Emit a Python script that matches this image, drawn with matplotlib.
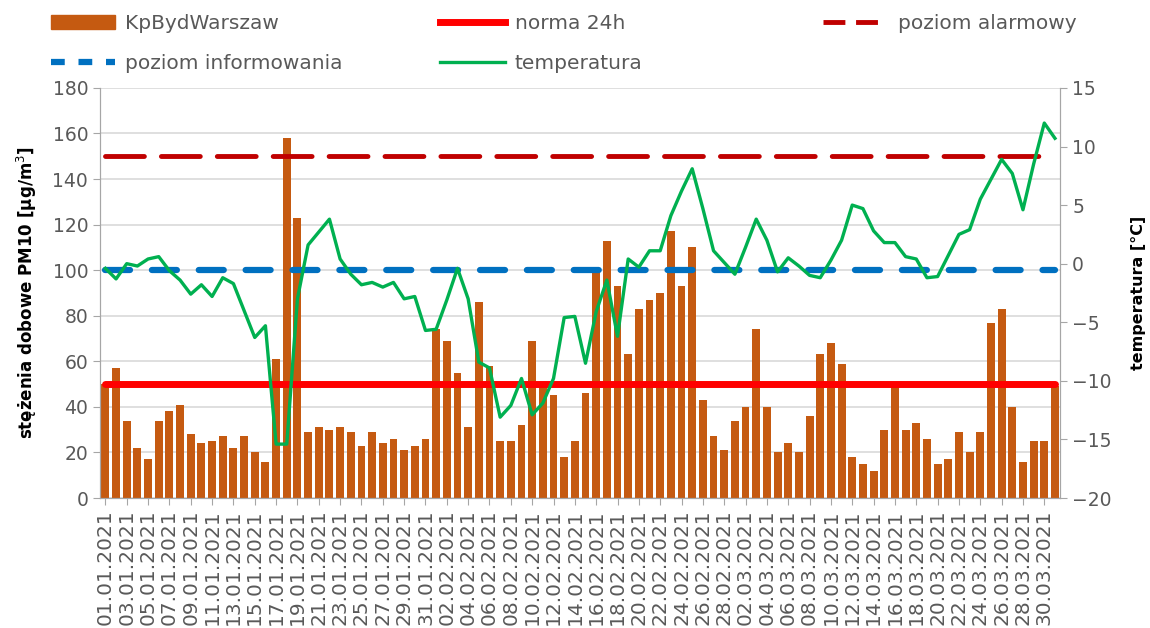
import numpy as np
import pandas as pd
import matplotlib

matplotlib.use("Agg")
import matplotlib.pyplot as plt
from matplotlib.patches import Patch
from matplotlib.lines import Line2D

# daily dates 01.01.2021 - 31.03.2021
dates = pd.date_range("2021-01-01", "2021-03-31", freq="D")
labels = [d.strftime("%d.%m.%Y") for d in dates]

pm10 = [
    50, 57, 34, 22, 17, 34, 38, 41, 28, 24, 25, 27, 22, 27, 20, 16, 61, 158, 123, 29,
    31, 30, 31, 29, 23, 29, 24, 26, 21, 23, 26, 74, 69, 55, 31, 86, 58, 25, 25, 32,
    69, 49, 45, 18, 25, 46, 100, 113, 93, 63, 83, 87, 90, 117, 93, 110, 43, 27, 21, 34,
    40, 74, 40, 20, 24, 20, 36, 63, 68, 59, 18, 15, 12, 30, 49, 30, 33, 26, 15, 17,
    29, 20, 29, 77, 83, 40, 16, 25, 25, 49,
]

temperature = [
    -0.4, -1.3, 0.0, -0.2, 0.4, 0.6, -0.6, -1.4, -2.6, -1.8, -2.8, -1.2, -1.7, -4.0, -6.3, -5.3, -15.4, -15.4, -3.0, 1.6,
    2.7, 3.8, 0.4, -0.9, -1.8, -1.6, -2.0, -1.6, -3.0, -2.8, -5.7, -5.6, -3.1, -0.4, -3.0, -8.4, -8.9, -13.1, -12.1, -9.8,
    -12.9, -11.9, -9.8, -4.6, -4.5, -8.5, -4.1, -1.4, -6.2, 0.4, -0.3, 1.1, 1.1, 4.1, 6.2, 8.1, 4.7, 1.1, 0.1, -0.9,
    1.4, 3.8, 2.0, -0.7, 0.5, -0.2, -1.0, -1.2, 0.3, 2.0, 5.0, 4.7, 2.8, 1.8, 1.8, 0.6, 0.4, -1.2, -1.1, 0.7,
    2.5, 2.9, 5.5, 7.2, 8.9, 7.7, 4.6, 8.5, 12.0, 10.7,
]

norma_24h = 50
poziom_informowania = 100
poziom_alarmowy = 150

bar_color = "#C55A11"
red = "#FF0000"
blue = "#0070C0"
dark_red = "#C00000"
green = "#00B050"
grid_color = "#D9D9D9"
text_color = "#595959"
axis_color = "#A6A6A6"

blue_dash = (0, (4, 3.5))
alarm_dash = (0, (8, 3.5))

x = np.arange(len(labels))

fig = plt.figure(figsize=(11.5, 6.28), dpi=100)
ax = fig.add_axes([0.087, 0.207, 0.835, 0.653])
ax2 = ax.twinx()

ax.bar(x, pm10, width=0.74, color=bar_color, zorder=2)
ax.hlines(norma_24h, x[0], x[-1], color=red, lw=5, zorder=3, capstyle="round")
ax.hlines(poziom_informowania, x[0], x[-1], color=blue, lw=4.5,
          linestyles=blue_dash, zorder=3, capstyle="round")
ax.hlines(poziom_alarmowy, x[0], x[-1], color=dark_red, lw=3.5,
          linestyles=alarm_dash, zorder=3, capstyle="round")
ax2.plot(x, temperature, color=green, lw=2.4, zorder=4)

ax.set_xlim(-0.5, len(x) - 0.5)
ax.set_ylim(0, 180)
ax.set_yticks(np.arange(0, 181, 20))
ax2.set_ylim(-20, 15)
ax2.set_yticks(np.arange(-20, 16, 5))

ax.set_xticks(x[::2])
ax.set_xticklabels(labels[::2], rotation=90, fontsize=14.5, color=text_color)
ax.yaxis.grid(True, color=grid_color, lw=1.2, zorder=0)
ax.set_axisbelow(True)

for a in (ax, ax2):
    a.tick_params(axis="y", labelsize=13.5, colors=text_color, length=5, color=axis_color)
    for s in a.spines.values():
        s.set_color(axis_color)
    a.spines["top"].set_visible(False)
ax.tick_params(axis="x", length=5, color=axis_color, pad=3)

ax.set_ylabel("stężenia dobowe PM10 [µg/m$^3$]", fontsize=12, fontweight="bold", labelpad=10)
ax2.set_ylabel("temperatura [°C]", fontsize=11.5, fontweight="bold", labelpad=14)

# legend in three columns, filled row by row like the original
columns = [
    (0.044, [Patch(color=bar_color), Line2D([], [], color=blue, lw=4.5, ls=(0, (2.2, 2.2)))],
     ["KpBydWarszaw", "poziom informowania"]),
    (0.383, [Line2D([], [], color=red, lw=5), Line2D([], [], color=green, lw=2.4)],
     ["norma 24h", "temperatura"]),
    (0.716, [Line2D([], [], color=dark_red, lw=3.5, ls=(0, (4.5, 2.2)))],
     ["poziom alarmowy"]),
]
for xpos, hs, names in columns:
    fig.legend(hs, names, loc="upper left", bbox_to_anchor=(xpos, 0.978),
               frameon=False, fontsize=14.5, handlelength=3.2, handletextpad=0.5,
               labelspacing=1.05, borderpad=0, borderaxespad=0, labelcolor=text_color)

plt.savefig("out.png", dpi=100)
